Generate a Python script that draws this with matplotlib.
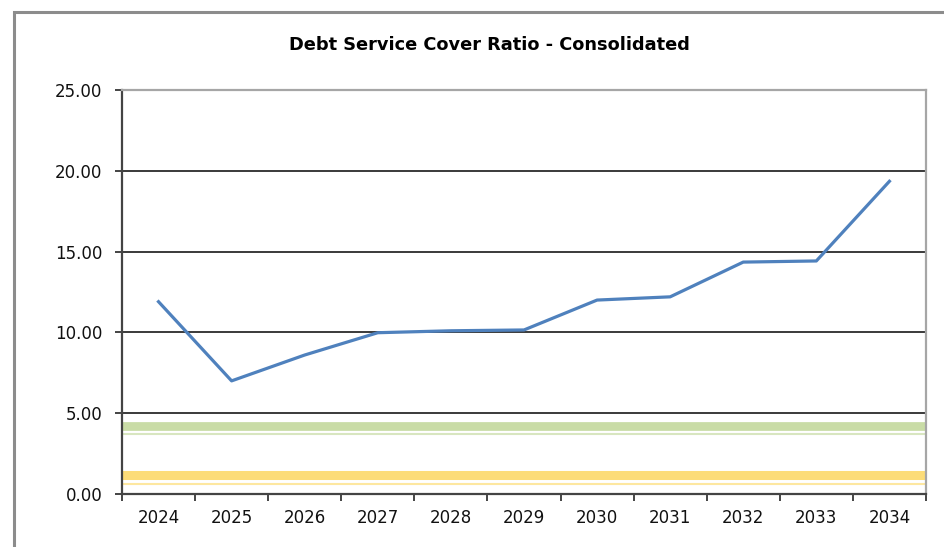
import numpy as np
import matplotlib.pyplot as plt
from matplotlib.patches import Rectangle

# DSCR by financial year
years = ['2024', '2025', '2026', '2027', '2028', '2029',
         '2030', '2031', '2032', '2033', '2034']
dscr = [11.9, 7.0, 8.6, 9.98, 10.1, 10.15, 12.0, 12.2, 14.35, 14.42, 19.35]

# covenant / target levels shown as horizontal bands
green_band = 4.2
green_thin = 3.72
yellow_band = 1.18
yellow_thin = 0.62

plt.rcParams['font.family'] = ['DejaVu Sans']

fig = plt.figure(figsize=(9.44, 5.47), dpi=100)
ax = fig.add_axes([0.1292, 0.0969, 0.8517, 0.7386])

x = np.arange(len(years))

# threshold bands
ax.axhline(green_band, color='#c9dca6', lw=6.3, zorder=1)
ax.axhline(green_thin, color='#d8e6c0', lw=1.5, zorder=1)
ax.axhline(yellow_band, color='#fcdc78', lw=6.5, zorder=1)
ax.axhline(yellow_thin, color='#fde7a0', lw=1.5, zorder=1)

# gridlines
for g in [5, 10, 15, 20]:
    ax.axhline(g, color='#3a3a3a', lw=1.4, zorder=2)

ax.plot(x, dscr, color='#4f81bd', lw=2.3, zorder=3, solid_joinstyle='round')

ax.set_xlim(-0.5, len(years) - 0.5)
ax.set_ylim(0, 25)
ax.set_yticks(np.arange(0, 26, 5))
ax.set_yticklabels(['%.2f' % v for v in np.arange(0, 26, 5)])
ax.set_xticks(x)
ax.set_xticklabels(years)
ax.set_xticks(np.arange(-0.5, len(years)), minor=True)

ax.tick_params(axis='y', direction='out', length=5, width=1.4, color='#444444',
               labelsize=12, pad=9, labelcolor='#111111')
ax.tick_params(axis='x', which='major', length=0, labelsize=12, pad=11,
               labelcolor='#111111')
ax.tick_params(axis='x', which='minor', direction='out', length=5, width=1.4,
               color='#444444')

for side in ['left', 'bottom']:
    ax.spines[side].set_color('#444444')
    ax.spines[side].set_linewidth(1.6)
for side in ['top', 'right']:
    ax.spines[side].set_color('#a6a6a6')
    ax.spines[side].set_linewidth(1.6)

fig.text(0.518, 0.917, 'Debt Service Cover Ratio - Consolidated',
         ha='center', va='center', fontsize=12.8, fontweight='bold')

# outer chart frame
fig.add_artist(Rectangle((14 / 944, -0.2), 1.2, 1.2 - 12 / 547,
                         transform=fig.transFigure, fill=False,
                         edgecolor='#8c8c8c', lw=2.2))

fig.savefig('out.png', dpi=100)
